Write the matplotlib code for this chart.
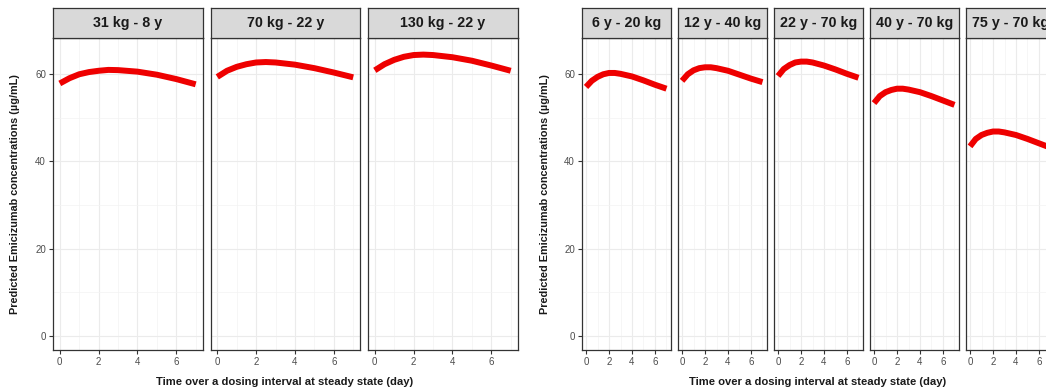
import matplotlib
matplotlib.use("Agg")
import matplotlib.pyplot as plt
from matplotlib.ticker import MultipleLocator

plt.rcParams['font.family'] = ['Liberation Sans', 'DejaVu Sans']

# time points (day)
times = [0, 0.5, 1, 1.5, 2, 2.5, 3, 4, 5, 6, 7]

# left group: body weight - age
left_labels = ["31 kg - 8 y", "70 kg - 22 y", "130 kg - 22 y"]
conc_31kg_8y = [57.8, 59.0, 59.9, 60.4, 60.7, 60.9, 60.85, 60.5, 59.8, 58.8, 57.6]
conc_70kg_22y = [59.3, 60.7, 61.6, 62.2, 62.6, 62.7, 62.6, 62.1, 61.3, 60.3, 59.2]
conc_130kg_22y = [60.8, 62.2, 63.2, 63.9, 64.3, 64.4, 64.3, 63.8, 63.0, 61.9, 60.7]
left_series = [conc_31kg_8y, conc_70kg_22y, conc_130kg_22y]

# right group: age - body weight
right_labels = ["6 y - 20 kg", "12 y - 40 kg", "22 y - 70 kg", "40 y - 70 kg", "75 y - 70 kg"]
conc_6y_20kg = [57.0, 58.4, 59.3, 59.9, 60.2, 60.2, 60.0, 59.4, 58.5, 57.5, 56.6]
conc_12y_40kg = [58.4, 59.9, 60.8, 61.3, 61.5, 61.5, 61.3, 60.7, 59.8, 58.9, 58.1]
conc_22y_70kg = [59.5, 61.1, 62.0, 62.6, 62.8, 62.8, 62.6, 61.9, 61.0, 60.0, 59.1]
conc_40y_70kg = [53.3, 54.9, 55.8, 56.3, 56.6, 56.6, 56.4, 55.8, 54.9, 53.9, 52.9]
conc_75y_70kg = [43.4, 45.1, 46.0, 46.5, 46.8, 46.8, 46.6, 46.0, 45.1, 44.1, 43.1]
right_series = [conc_6y_20kg, conc_12y_40kg, conc_22y_70kg, conc_40y_70kg, conc_75y_70kg]

W, H = 1046, 392
fig = plt.figure(figsize=(W / 100, H / 100), dpi=100)

strip_top, strip_bot, panel_bot = 8, 38, 350
ylabel = "Predicted Emicizumab concentrations (µg/mL)"
xlabel = "Time over a dosing interval at steady state (day)"


def px_axes(x0, y_top, w, h):
    return fig.add_axes([x0 / W, (H - y_top - h) / H, w / W, h / H])


def facet_group(x0, width, gap, labels, series):
    axes = []
    for i, (lab, vals) in enumerate(zip(labels, series)):
        left = x0 + i * (width + gap)
        ax = px_axes(left, strip_bot, width, panel_bot - strip_bot)
        ax.plot(times, vals, color='#ee0000', lw=4.3, solid_capstyle='butt', zorder=3)
        ax.set_xlim(-0.35, 7.35)
        ax.set_ylim(-3.2, 68.2)
        ax.xaxis.set_major_locator(MultipleLocator(2))
        ax.xaxis.set_minor_locator(MultipleLocator(1))
        ax.yaxis.set_major_locator(MultipleLocator(20))
        ax.yaxis.set_minor_locator(MultipleLocator(10))
        ax.grid(which='major', color='#ebebeb', lw=0.8)
        ax.grid(which='minor', color='#f3f3f3', lw=0.5)
        ax.set_axisbelow(True)
        for s in ax.spines.values():
            s.set_color('#333333')
            s.set_linewidth(0.9)
        ax.tick_params(which='minor', length=0)
        ax.tick_params(which='major', length=3, width=0.8, color='#333333',
                       labelsize=7, labelcolor='#4d4d4d', pad=2)
        if i > 0:
            ax.tick_params(axis='y', labelleft=False, length=0)
        # strip
        st = px_axes(left, strip_top, width, strip_bot - strip_top)
        st.set_facecolor('#d9d9d9')
        st.set_xticks([])
        st.set_yticks([])
        for s in st.spines.values():
            s.set_color('#333333')
            s.set_linewidth(0.9)
        st.text(0.5, 0.5, lab, ha='center', va='center', fontsize=10.3,
                fontweight='bold', color='#1a1a1a', transform=st.transAxes)
        axes.append(ax)
    return axes


facet_group(53, 149.5, 8, left_labels, left_series)
facet_group(582, 88.5, 7.5, right_labels, right_series)

fig.text(15 / W, 1 - 194 / H, ylabel, rotation=90, ha='center', va='center',
         fontsize=7.8, fontweight='bold', color='#1a1a1a')
fig.text(545 / W, 1 - 194 / H, ylabel, rotation=90, ha='center', va='center',
         fontsize=7.8, fontweight='bold', color='#1a1a1a')
fig.text(285 / W, 1 - 382 / H, xlabel, ha='center', va='center',
         fontsize=8.1, fontweight='bold', color='#1a1a1a')
fig.text(818 / W, 1 - 382 / H, xlabel, ha='center', va='center',
         fontsize=8.1, fontweight='bold', color='#1a1a1a')

fig.savefig("out.png", dpi=100, facecolor='white')
